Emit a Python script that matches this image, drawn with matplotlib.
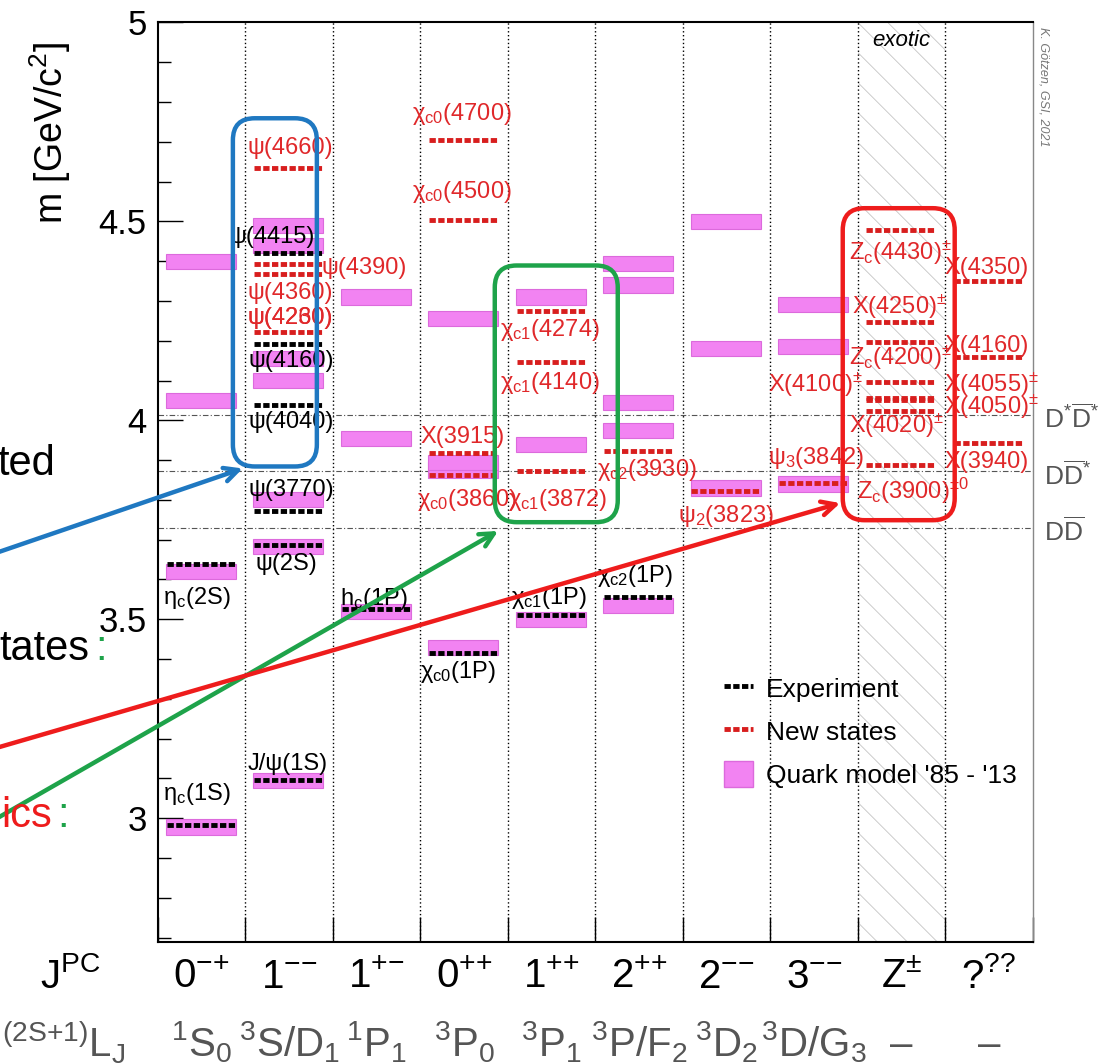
import numpy as np
import matplotlib.pyplot as plt
from matplotlib.lines import Line2D
from matplotlib.patches import Patch, FancyBboxPatch, Rectangle

plt.rcParams["font.family"] = ["Liberation Sans", "DejaVu Sans"]
plt.rcParams["mathtext.fontset"] = "custom"
plt.rcParams["mathtext.rm"] = "Liberation Sans"
plt.rcParams["mathtext.it"] = "Liberation Sans:italic"
plt.rcParams["mathtext.bf"] = "Liberation Sans:bold"

# columns (J^PC) and spectroscopic notation
jpc_labels = [r"$0^{{-}{+}}$", r"$1^{{-}{-}}$", r"$1^{{+}{-}}$", r"$0^{{+}{+}}$", r"$1^{{+}{+}}$",
              r"$2^{{+}{+}}$", r"$2^{{-}{-}}$", r"$3^{{-}{-}}$", r"$\mathrm{Z}^{\pm}$", r"$?^{??}$"]
lj_labels = [r"$^{1}\mathrm{S}_{0}$", r"$^{3}\mathrm{S/D}_{1}$", r"$^{1}\mathrm{P}_{1}$",
             r"$^{3}\mathrm{P}_{0}$", r"$^{3}\mathrm{P}_{1}$", r"$^{3}\mathrm{P/F}_{2}$",
             r"$^{3}\mathrm{D}_{2}$", r"$^{3}\mathrm{D/G}_{3}$", "–", "–"]

# experimentally established states (column, mass in GeV)
exp_col = [0, 0, 1, 1, 1, 1, 1, 1, 2, 3, 4, 5]
exp_mass = [2.984, 3.638, 3.097, 3.686, 3.773, 4.039, 4.191, 4.421, 3.525, 3.415, 3.511, 3.556]

# new states
new_col = [1, 1, 1, 1, 3, 3, 3, 3, 4, 4, 4, 5, 6, 7,
           8, 8, 8, 8, 8, 8, 8, 8, 9, 9, 9]
new_mass = [4.222, 4.368, 4.392, 4.633, 3.862, 3.918, 4.504, 4.704, 3.872, 4.146, 4.274, 3.923, 3.823, 3.842,
            3.887, 4.024, 4.051, 4.055, 4.096, 4.196, 4.248, 4.478, 3.942, 4.160, 4.350]

# quark model predictions
qm_col = [0, 0, 0, 0, 1, 1, 1, 1, 1, 1, 1, 2, 2, 2, 3, 3, 3, 3, 4, 4, 4,
          5, 5, 5, 5, 5, 6, 6, 6, 7, 7, 7]
qm_mass = [2.978, 3.62, 4.05, 4.40, 3.095, 3.682, 3.80, 4.10, 4.155, 4.44, 4.49,
           3.52, 3.955, 4.31, 3.43, 3.875, 3.895, 4.255, 3.50, 3.94, 4.31,
           3.535, 3.975, 4.045, 4.34, 4.395, 3.83, 4.18, 4.50, 3.84, 4.185, 4.29]

# open-charm thresholds
thr_mass = [3.7297, 3.8717, 4.0137]
thr_labels = [r"D$\overline{\mathrm{D}}$", r"D$\overline{\mathrm{D}}^{*}$",
              r"D$^{*}\overline{\mathrm{D}}^{*}$"]

# state names: text, x (column units), y (GeV)
exp_names = [
    (r"η$_\mathrm{c}$(1S)", 0.06, 3.06),
    (r"η$_\mathrm{c}$(2S)", 0.06, 3.553),
    (r"J/ψ(1S)", 1.02, 3.136),
    (r"ψ(2S)", 1.12, 3.64),
    (r"ψ(3770)", 1.04, 3.824),
    (r"ψ(4040)", 1.04, 3.997),
    (r"ψ(4160)", 1.04, 4.148),
    (r"ψ(4415)", 0.82, 4.46),
    (r"h$_\mathrm{c}$(1P)", 2.08, 3.55),
    (r"χ$_\mathrm{c0}$(1P)", 3.0, 3.367),
    (r"χ$_\mathrm{c1}$(1P)", 4.04, 3.553),
    (r"χ$_\mathrm{c2}$(1P)", 5.02, 3.61),
]
new_names = [
    (r"ψ(4660)", 1.02, 4.683),
    (r"ψ(4390)", 1.87, 4.382),
    (r"ψ(4360)", 1.02, 4.32),
    (r"ψ(4260)", 1.02, 4.256),
    (r"ψ(4230)", 1.02, 4.256),
    (r"χ$_\mathrm{c0}$(4700)", 2.91, 4.77),
    (r"χ$_\mathrm{c0}$(4500)", 2.91, 4.573),
    (r"X(3915)", 3.0, 3.957),
    (r"χ$_\mathrm{c0}$(3860)", 2.96, 3.80),
    (r"χ$_\mathrm{c1}$(4274)", 3.91, 4.226),
    (r"χ$_\mathrm{c1}$(4140)", 3.91, 4.093),
    (r"χ$_\mathrm{c1}$(3872)", 4.0, 3.80),
    (r"χ$_\mathrm{c2}$(3930)", 5.02, 3.874),
    (r"ψ$_2$(3823)", 5.94, 3.76),
    (r"ψ$_3$(3842)", 6.97, 3.905),
    (r"X(4100)$^{\pm}$", 6.97, 4.088),
    (r"Z$_\mathrm{c}$(4430)$^{\pm}$", 7.9, 4.42),
    (r"X(4250)$^{\pm}$", 7.93, 4.286),
    (r"Z$_\mathrm{c}$(4200)$^{\pm}$", 7.9, 4.158),
    (r"X(4020)$^{\pm}$", 7.9, 3.985),
    (r"Z$_\mathrm{c}$(3900)$^{\pm0}$", 7.99, 3.822),
    (r"X(4350)", 8.99, 4.382),
    (r"X(4160)", 8.99, 4.186),
    (r"X(4055)$^{\pm}$", 8.99, 4.088),
    (r"X(4050)$^{\pm}$", 8.99, 4.035),
    (r"X(3940)", 8.99, 3.894),
]

# highlight boxes: (x0, x1, y0, y1) and arrows (tip x, tip y, tail figure-y)
box_colors = ["#1f78c1", "#1ea34a", "#ee1c1c"]
box_extent = [(0.857, 1.817, 3.884, 4.759), (3.851, 5.257, 3.744, 4.389), (7.829, 9.109, 3.749, 4.533)]
arrow_tip = [(0.97, 3.879), (3.89, 3.722), (7.8, 3.792)]
arrow_tail_y = [0.478, 0.2265, 0.295]

c_red = "#d81e1e"
c_qm = "#f283f2"

fig = plt.figure(figsize=(11.2, 10.64), dpi=100)
ax = fig.add_axes([0.141, 0.115, 0.781, 0.864])
ax.set_xlim(0, 10)
ax.set_ylim(2.69, 5.0)

# exotic column: sparse diagonal hatching (45 degrees on screen)
px_x, px_y = 87.5, 398.0  # pixels per data unit
clip = Rectangle((8, 2.69), 1, 2.31, transform=ax.transData, fill=False, lw=0)
ax.add_patch(clip)
for k in range(-36, 5):
    x0 = 8 + k * 30 / px_x
    ln, = ax.plot([x0, x0 + 1000 / px_x], [5.0, 5.0 - 1000 / px_y],
                  color="#c4c4c4", lw=0.6, zorder=0)
    ln.set_clip_path(clip)
ax.text(8.5, 4.955, "exotic", style="italic", fontsize=16, ha="center", va="center")

for i in range(1, 10):
    ax.axvline(i, color="k", ls=(0, (1, 1.8)), lw=1, zorder=1)

for m in thr_mass:
    ax.axhline(m, color="#555555", ls=(0, (5, 2, 1, 2)), lw=0.8, zorder=1)
for m, lab in zip(thr_mass, thr_labels):
    ax.text(10.13, m - 0.01, lab, color="#555555", fontsize=19, va="center", ha="left", clip_on=False)

# quark model bars
qm_x = np.array(qm_col) + 0.49
ax.bar(qm_x, 0.038, width=0.8, bottom=np.array(qm_mass) - 0.019,
       color=c_qm, edgecolor="#dc6adc", lw=0.8, zorder=2)

for c, m in zip(exp_col, exp_mass):
    ax.plot([c + 0.1, c + 0.88], [m, m], color="k", lw=3.5, dashes=(1.3, 0.5), zorder=3)
for c, m in zip(new_col, new_mass):
    ax.plot([c + 0.1, c + 0.88], [m, m], color=c_red, lw=3.5, dashes=(1.3, 0.5), zorder=3)

for txt, x, y in exp_names:
    ax.text(x, y, txt, color="k", fontsize=17, va="center", ha="left", zorder=5)
for txt, x, y in new_names:
    ax.text(x, y, txt, color="#e0282a", fontsize=17, va="center", ha="left", zorder=5)

# rounded boxes
for (x0, x1, y0, y1), col in zip(box_extent, box_colors):
    ax.add_patch(FancyBboxPatch((x0, y0), x1 - x0, y1 - y0,
                                boxstyle="round,pad=0,rounding_size=0.25",
                                mutation_aspect=0.22, fill=False, ec=col, lw=3.2, zorder=6))

# arrows from the (cropped) slide text
for (tx, ty), fy, col in zip(arrow_tip, arrow_tail_y, box_colors):
    ax.annotate("", xy=(tx, ty), xycoords="data", xytext=(-0.01, fy), textcoords="figure fraction",
                arrowprops=dict(arrowstyle="->,head_length=1.0,head_width=0.5", color=col, lw=3.2,
                                shrinkA=0, shrinkB=0),
                annotation_clip=False, zorder=6)

# axes styling
ax.set_xticks(range(11))
ax.set_xticklabels([])
ax.tick_params(axis="x", direction="in", length=18, width=1, top=False)
ax.set_yticks([3, 3.5, 4, 4.5, 5])
ax.set_yticklabels(["3", "3.5", "4", "4.5", "5"], fontsize=25)
ax.set_yticks(np.arange(2.7, 5.0, 0.1), minor=True)
ax.tick_params(axis="y", which="major", direction="in", length=18, width=1, pad=8)
ax.tick_params(axis="y", which="minor", direction="in", length=9, width=1)
for s in ["left", "bottom", "top"]:
    ax.spines[s].set_linewidth(1.5)
ax.spines["right"].set_color("#888888")
ax.spines["right"].set_linewidth(1)

fig.text(0.045, 0.875, r"m [GeV/c$^{2}$]", rotation=90, fontsize=27, ha="center", va="center")

# bottom rows
for i, (a, b) in enumerate(zip(jpc_labels, lj_labels)):
    ax.text(i + 0.5, 2.573, a, fontsize=29, ha="center", va="baseline", clip_on=False)
    ax.text(i + 0.5, 2.402, b, fontsize=29, ha="center", va="baseline", color="#555555", clip_on=False)
ax.text(-1.0, 2.573, r"$\mathrm{J}^{\mathrm{PC}}$", fontsize=29, ha="center", va="baseline", clip_on=False)
ax.text(-1.78, 2.402, r"$^{\mathrm{(2S{+}1)}}\mathrm{L}_{\mathrm{J}}$", fontsize=29, ha="left", va="baseline",
        color="#555555", clip_on=False)

# legend
handles = [Line2D([], [], color="k", lw=3.5, dashes=(1.3, 0.5)),
           Line2D([], [], color=c_red, lw=3.5, dashes=(1.3, 0.5)),
           Patch(facecolor=c_qm, edgecolor="#dc6adc")]
ax.legend(handles, ["Experiment", "New states", "Quark model '85 - '13"], loc="upper left",
          bbox_to_anchor=(0.647, 0.29), frameon=False, fontsize=19, handlelength=1.1,
          handleheight=1.15, labelspacing=0.6, handletextpad=0.5, borderpad=0, borderaxespad=0)

# credit
fig.text(0.932, 0.975, "K. Götzen, GSI, 2021", rotation=270, fontsize=9, color="#777777",
         style="italic", ha="center", va="top")

# cropped slide text on the left
fig.text(-0.002, 1 - 475 / 1064, "ted", fontsize=30, ha="left", va="baseline")
fig.text(-0.001, 1 - 660 / 1064, "tates", fontsize=30, ha="left", va="baseline")
fig.text(95 / 1120, 1 - 660 / 1064, ":", fontsize=30, ha="left", va="baseline", color="#1ea34a")
fig.text(0.001, 1 - 827 / 1064, "ics", fontsize=30, ha="left", va="baseline", color="#ee1c1c")
fig.text(57 / 1120, 1 - 827 / 1064, ":", fontsize=30, ha="left", va="baseline", color="#1ea34a")

fig.savefig("out.png", dpi=100)
